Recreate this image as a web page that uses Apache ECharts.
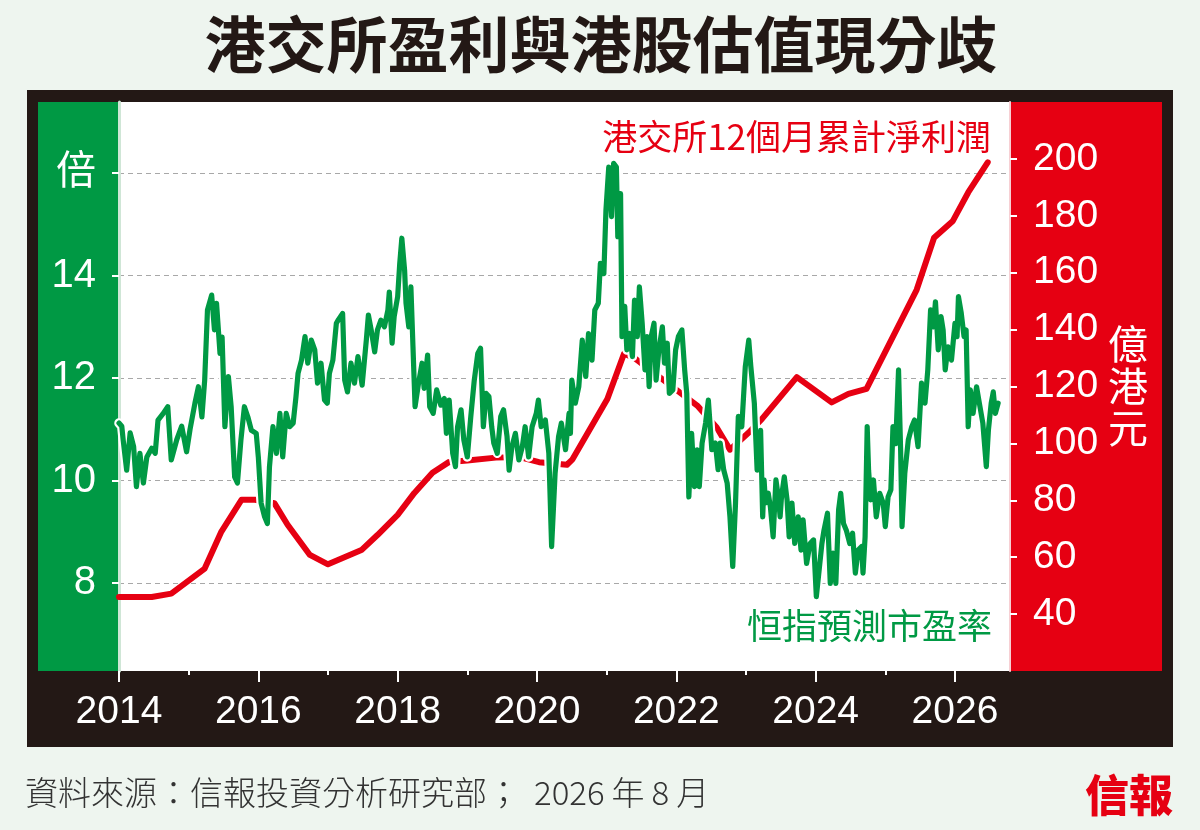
<!DOCTYPE html>
<html>
<head>
<meta charset="utf-8">
<title>港交所盈利與港股估值現分歧</title>
<script src="https://cdn.jsdelivr.net/npm/echarts@6/dist/echarts.min.js"></script>
<style>
  html, body { margin: 0; padding: 0; background: #eef5ef; }
  #main { width: 1200px; height: 830px; }
</style>
</head>
<body>
<div id="main"></div>
<script>
// 恒指預測市盈率 (倍)
var peYears = [
  2014.00, 2014.04, 2014.06, 2014.11, 2014.16, 2014.21, 2014.25, 2014.30, 2014.35, 2014.40,
  2014.47, 2014.52, 2014.56, 2014.63, 2014.70, 2014.75, 2014.83, 2014.90, 2014.97, 2015.02,
  2015.09, 2015.14, 2015.19, 2015.23, 2015.27, 2015.33, 2015.37, 2015.40, 2015.45, 2015.48,
  2015.52, 2015.57, 2015.61, 2015.66, 2015.70, 2015.75, 2015.80, 2015.85, 2015.90, 2015.97,
  2016.00, 2016.04, 2016.09, 2016.13, 2016.16, 2016.21, 2016.26, 2016.31, 2016.35, 2016.40,
  2016.45, 2016.50, 2016.54, 2016.57, 2016.62, 2016.67, 2016.71, 2016.76, 2016.81, 2016.85,
  2016.90, 2016.95, 2016.99, 2017.02, 2017.07, 2017.12, 2017.15, 2017.21, 2017.24, 2017.28,
  2017.33, 2017.38, 2017.43, 2017.49, 2017.55, 2017.58, 2017.62, 2017.67, 2017.71, 2017.76,
  2017.81, 2017.86, 2017.88, 2017.92, 2017.95, 2018.00, 2018.03, 2018.06, 2018.10, 2018.12,
  2018.16, 2018.19, 2018.22, 2018.25, 2018.30, 2018.35, 2018.38, 2018.43, 2018.46, 2018.51,
  2018.56, 2018.62, 2018.67, 2018.70, 2018.74, 2018.79, 2018.83, 2018.86, 2018.91, 2018.95,
  2019.00, 2019.05, 2019.10, 2019.15, 2019.19, 2019.23, 2019.27, 2019.31, 2019.35, 2019.38,
  2019.43, 2019.48, 2019.52, 2019.57, 2019.60, 2019.64, 2019.69, 2019.74, 2019.79, 2019.83,
  2019.88, 2019.93, 2019.99, 2020.02, 2020.06, 2020.12, 2020.17, 2020.21, 2020.26, 2020.31,
  2020.35, 2020.41, 2020.46, 2020.48, 2020.50, 2020.55, 2020.60, 2020.65, 2020.70, 2020.74,
  2020.79, 2020.83, 2020.88, 2020.91, 2020.96, 2020.99, 2021.03, 2021.07, 2021.10, 2021.14,
  2021.16, 2021.20, 2021.22, 2021.26, 2021.29, 2021.33, 2021.37, 2021.40, 2021.44, 2021.47,
  2021.51, 2021.55, 2021.58, 2021.61, 2021.64, 2021.68, 2021.71, 2021.75, 2021.80, 2021.83,
  2021.87, 2021.90, 2021.95, 2021.99, 2022.03, 2022.08, 2022.12, 2022.15, 2022.18, 2022.22,
  2022.26, 2022.30, 2022.33, 2022.37, 2022.42, 2022.46, 2022.51, 2022.56, 2022.60, 2022.63,
  2022.68, 2022.73, 2022.77, 2022.81, 2022.85, 2022.89, 2022.94, 2022.99, 2023.04, 2023.07,
  2023.12, 2023.16, 2023.18, 2023.21, 2023.24, 2023.26, 2023.28, 2023.32, 2023.35, 2023.39,
  2023.43, 2023.47, 2023.49, 2023.51, 2023.55, 2023.59, 2023.62, 2023.66, 2023.70, 2023.75,
  2023.79, 2023.82, 2023.87, 2023.92, 2023.97, 2024.01, 2024.05, 2024.09, 2024.12, 2024.17,
  2024.21, 2024.25, 2024.29, 2024.33, 2024.36, 2024.40, 2024.44, 2024.49, 2024.53, 2024.57,
  2024.61, 2024.66, 2024.68, 2024.71, 2024.74, 2024.76, 2024.79, 2024.83, 2024.87, 2024.92,
  2024.97, 2025.00, 2025.04, 2025.08, 2025.11, 2025.15, 2025.19, 2025.22, 2025.24, 2025.28,
  2025.33, 2025.38, 2025.42, 2025.47, 2025.52, 2025.57, 2025.61, 2025.65, 2025.69, 2025.72,
  2025.76, 2025.80, 2025.83, 2025.86, 2025.90, 2025.95, 2026.00, 2026.03, 2026.05, 2026.09,
  2026.13, 2026.16, 2026.19, 2026.22, 2026.26, 2026.31, 2026.35, 2026.40, 2026.45, 2026.48,
  2026.52, 2026.55, 2026.58, 2026.62
];
var peValues = [
  11.12, 11.06, 10.79, 10.20, 10.93, 10.66, 9.88, 10.53, 9.95, 10.46,
  10.63, 10.53, 11.18, 11.30, 11.44, 10.40, 10.80, 11.06, 10.56, 11.00,
  11.51, 11.83, 11.24, 11.96, 13.33, 13.62, 12.94, 13.46, 12.48, 12.80,
  11.05, 12.03, 11.44, 10.07, 9.95, 10.79, 11.44, 11.24, 10.98, 10.92,
  10.46, 9.56, 9.29, 9.16, 10.27, 11.05, 10.53, 11.31, 10.46, 11.31,
  11.05, 11.12, 11.63, 12.09, 12.35, 12.81, 12.29, 12.74, 12.55, 11.90,
  12.29, 11.57, 11.51, 12.09, 12.35, 13.07, 13.14, 13.26, 11.96, 11.73,
  12.29, 11.90, 12.42, 11.86, 12.74, 13.23, 12.94, 12.51, 12.94, 13.13,
  13.00, 13.33, 13.68, 12.68, 13.20, 13.59, 14.24, 14.73, 14.10, 13.46,
  13.00, 13.78, 12.61, 11.44, 11.90, 12.29, 11.80, 12.45, 11.44, 11.31,
  11.77, 11.47, 11.60, 10.92, 11.57, 10.53, 10.27, 11.05, 11.38, 10.79,
  10.46, 11.25, 11.96, 12.48, 12.58, 11.05, 11.70, 11.64, 11.05, 10.73,
  10.53, 11.25, 11.38, 10.86, 10.20, 10.66, 10.92, 10.40, 10.66, 11.05,
  10.46, 11.05, 11.31, 11.57, 11.05, 11.18, 10.53, 8.71, 10.14, 10.86,
  11.12, 10.60, 11.31, 10.92, 11.96, 11.51, 11.83, 12.74, 12.03, 12.87,
  12.35, 13.33, 13.46, 14.24, 14.04, 15.28, 16.12, 15.15, 16.19, 16.12,
  14.76, 15.60, 12.81, 13.40, 12.55, 12.87, 12.42, 13.52, 12.81, 13.78,
  13.07, 12.16, 12.81, 11.83, 12.81, 13.07, 11.96, 12.55, 13.00, 12.29,
  12.68, 11.70, 11.77, 12.55, 12.81, 12.94, 12.16, 11.70, 9.68, 10.92,
  9.88, 10.60, 9.88, 10.73, 11.12, 11.57, 10.60, 10.73, 10.21, 10.73,
  10.21, 9.95, 9.29, 8.32, 9.56, 11.25, 11.05, 12.22, 12.74, 12.22,
  11.51, 10.20, 10.59, 10.98, 9.29, 10.01, 9.56, 9.75, 9.49, 8.90,
  10.01, 9.62, 9.29, 9.68, 10.07, 9.62, 8.90, 9.56, 8.77, 9.29,
  8.64, 9.23, 8.38, 8.77, 8.84, 7.73, 8.25, 8.77, 9.03, 9.36,
  7.99, 8.58, 7.99, 9.43, 9.75, 9.16, 9.03, 8.77, 8.97, 8.19,
  8.64, 8.71, 8.19, 8.90, 11.05, 10.20, 9.62, 10.01, 9.29, 9.75,
  9.56, 9.10, 9.68, 9.82, 11.05, 10.72, 12.16, 10.59, 9.10, 10.14,
  10.79, 11.05, 11.18, 10.66, 11.90, 11.51, 12.16, 13.33, 13.00, 13.49,
  12.55, 13.20, 12.94, 12.16, 12.61, 12.35, 13.07, 12.81, 13.59, 13.27,
  12.81, 12.94, 11.05, 11.77, 11.31, 11.83, 11.51, 11.12, 10.27, 10.98,
  11.51, 11.73, 11.31, 11.51
];

// 港交所12個月累計淨利潤 (億港元)
var profitYears = [
  2014.00, 2014.47, 2014.75, 2015.23, 2015.47, 2015.76, 2015.95, 2016.23, 2016.42, 2016.74,
  2017.00, 2017.48, 2017.71, 2018.00, 2018.24, 2018.50, 2018.74, 2019.00, 2019.41, 2019.75,
  2020.03, 2020.43, 2020.51, 2021.01, 2021.25, 2021.41, 2022.30, 2022.58, 2022.77, 2023.04,
  2023.23, 2023.73, 2024.23, 2024.47, 2024.73, 2025.45, 2025.70, 2025.97, 2026.19, 2026.47
];
var profitValues = [
  46.0, 46.0, 47.2, 56.0, 69.0, 80.2, 80.2, 79.0, 71.4, 60.8,
  57.5, 62.5, 67.8, 74.9, 82.6, 89.7, 93.5, 94.0, 95.0, 95.2,
  93.4, 92.5, 94.4, 115.6, 131.6, 129.8, 113.3, 105.6, 97.8, 103.8,
  108.6, 123.3, 114.4, 117.4, 119.2, 154.0, 172.3, 178.2, 188.2, 198.8
];

// tick labels
var yearTicks = [2014, 2016, 2018, 2020, 2022, 2024, 2026];
var minorYearTicks = [2015, 2017, 2019, 2021, 2023, 2025];
var peTicks = [8, 10, 12, 14, 16];
var profitTicks = [40, 60, 80, 100, 120, 140, 160, 180, 200];

var peData = peYears.map(function (y, i) { return [y, peValues[i]]; });
var profitData = profitYears.map(function (y, i) { return [y, profitValues[i]]; });

var NUM_FONT = "'Liberation Sans Narrow', 'Arial Narrow', 'Liberation Sans', Arial, 'Noto Sans CJK TC', sans-serif";
var CJK_FONT = "'Noto Sans CJK TC', 'Noto Sans CJK SC', sans-serif";
var GREEN = '#009944';
var RED = '#e60012';
var DARK = '#231815';

var chartDom = document.getElementById('main');
var myChart = echarts.init(chartDom);
var option;

option = {
  backgroundColor: '#eef5ef',
  animation: false,
  graphic: [
    // 外框及兩側色塊
    { type: 'rect', z: -1, shape: { x: 27, y: 90, width: 1146, height: 657 }, style: { fill: DARK } },
    { type: 'rect', z: -1, shape: { x: 38, y: 102, width: 81, height: 569 }, style: { fill: GREEN } },
    { type: 'rect', z: -1, shape: { x: 1010, y: 102, width: 152, height: 569 }, style: { fill: RED } },
    { type: 'rect', z: -1, shape: { x: 119, y: 102, width: 891, height: 569 }, style: { fill: '#ffffff' } },
    // 標題
    { type: 'text', z: 10, x: 601, y: 45,
      style: { text: '港交所盈利與港股估值現分歧', fill: DARK, font: 'bold 61px ' + CJK_FONT, align: 'center', verticalAlign: 'middle' } },
    // 系列標示
    { type: 'text', z: 10, x: 991, y: 137,
      style: { text: '港交所12個月累計淨利潤', fill: RED, font: '35px ' + CJK_FONT, align: 'right', verticalAlign: 'middle' } },
    { type: 'text', z: 10, x: 992, y: 626,
      style: { text: '恒指預測市盈率', fill: GREEN, font: '35px ' + CJK_FONT, align: 'right', verticalAlign: 'middle' } },
    { type: 'text', z: 10, x: 1128, y: 386,
      style: { text: '億\n港\n元', fill: '#ffffff', font: '40px ' + CJK_FONT, lineHeight: 42, align: 'center', verticalAlign: 'middle' } },
    // 資料來源
    { type: 'text', z: 10, x: 25, y: 792,
      style: {
        text: '{a|資料來源：信報投資分析研究部；}{b|2026}{c|年}{c|8}{c|月}',
        align: 'left', verticalAlign: 'middle',
        rich: {
          a: { fill: '#333333', font: '300 33px ' + CJK_FONT },
          b: { fill: '#333333', font: '300 33px ' + CJK_FONT, padding: [0, 0, 0, 14] },
          c: { fill: '#333333', font: '300 33px ' + CJK_FONT, padding: [0, 0, 0, 7] }
        }
      } },
    { type: 'text', z: 10, x: 1173, y: 795,
      style: { text: '信報', fill: RED, font: '900 44px ' + CJK_FONT, align: 'right', verticalAlign: 'middle' } }
  ],
  grid: { left: 119, right: 190, top: 102, bottom: 159 },
  xAxis: [
    {
      type: 'value', min: 2014, max: 2026.79, position: 'bottom',
      axisLine: { show: false },
      axisTick: { show: true, customValues: yearTicks, length: 11, lineStyle: { color: '#ffffff', width: 2 } },
      axisLabel: {
        customValues: yearTicks, color: '#ffffff', fontSize: 39, fontFamily: NUM_FONT, margin: 22,
        formatter: function (v) { return String(v); }
      },
      splitLine: { show: false }
    },
    {
      type: 'value', min: 2014, max: 2026.79, position: 'bottom',
      axisLine: { show: false },
      axisTick: { show: true, customValues: minorYearTicks, length: 4, lineStyle: { color: '#ffffff', width: 2 } },
      axisLabel: { show: false },
      splitLine: { show: false }
    }
  ],
  yAxis: [
    {
      type: 'value', position: 'left', min: 6.28, max: 17.39,
      axisLine: { show: true, lineStyle: { color: '#cfe6d6', width: 3 } },
      axisTick: { show: true, customValues: peTicks, length: 7, lineStyle: { color: '#ffffff', width: 2 } },
      axisLabel: {
        customValues: peTicks, color: '#ffffff', fontSize: 40, fontFamily: NUM_FONT, margin: 23,
        formatter: function (v) { return v === 16 ? '倍' : String(v); }
      },
      splitLine: { show: true, lineStyle: { color: '#a8a8a8', width: 1.2, type: [5, 4] } }
    },
    {
      type: 'value', position: 'right', min: 20, max: 220,
      axisLine: { show: true, lineStyle: { color: '#f7d0d4', width: 2 } },
      axisTick: { show: true, customValues: profitTicks, length: 7, lineStyle: { color: '#ffffff', width: 2 } },
      axisLabel: {
        customValues: profitTicks, color: '#ffffff', fontSize: 39, fontFamily: NUM_FONT, margin: 23,
        formatter: function (v) { return String(v); }
      },
      splitLine: { show: false }
    }
  ],
  series: [
    {
      name: '港交所12個月累計淨利潤', type: 'line', xAxisIndex: 0, yAxisIndex: 1,
      data: profitData, symbol: 'none', z: 2, silent: true,
      lineStyle: { color: RED, width: 6, cap: 'round', join: 'round' }
    },
    {
      // 綠線白邊
      name: 'halo', type: 'line', xAxisIndex: 0, yAxisIndex: 0,
      data: peData, symbol: 'none', z: 3, silent: true,
      lineStyle: { color: '#ffffff', width: 9.5, cap: 'round', join: 'round' }
    },
    {
      name: '恒指預測市盈率', type: 'line', xAxisIndex: 0, yAxisIndex: 0,
      data: peData, symbol: 'none', z: 4, silent: true,
      lineStyle: { color: GREEN, width: 5.2, cap: 'round', join: 'round' }
    }
  ]
};

option && myChart.setOption(option);
</script>
</body>
</html>
